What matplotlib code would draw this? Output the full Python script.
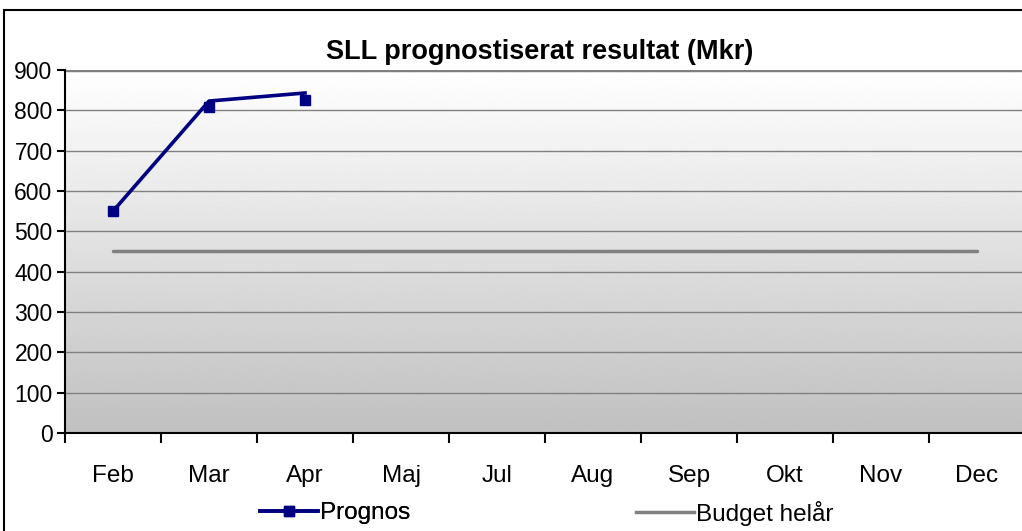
import matplotlib.pyplot as plt
import numpy as np
from matplotlib.patches import Rectangle
from matplotlib.lines import Line2D

plt.rcParams['font.family'] = ['Liberation Sans', 'DejaVu Sans']

# Chart data
months = ["Feb", "Mar", "Apr", "Maj", "Jul", "Aug", "Sep", "Okt", "Nov", "Dec"]
prognos_line = [550, 823, 843]      # where the drawn line runs
prognos_markers = [550, 808, 826]   # where the square markers sit
budget = [450] * len(months)
y_ticks = list(range(0, 1000, 100))

fig = plt.figure(figsize=(10.22, 5.31), dpi=100)
W, H = 1022, 531

# outer chart border (runs off the right and bottom edges)
fig.patches.append(Rectangle((4 / W, -0.05), 1.2, 1 - 10 / H + 0.05,
                             transform=fig.transFigure, fill=False,
                             edgecolor="black", linewidth=1.5))

# plot area: x 65..1025 px, y 70..433 px
ax = fig.add_axes([65 / W, (H - 433) / H, 960 / W, 363 / H])
ax.set_xlim(0, len(months))
ax.set_ylim(0, 900)

# gradient background white -> light gray
grad = np.linspace(0.753, 1.0, 256).reshape(-1, 1)
ax.imshow(grad, extent=[0, len(months), 0, 900], origin="lower",
          cmap="gray", vmin=0, vmax=1, aspect="auto", zorder=0)

# horizontal gridlines
for v in y_ticks[1:-1]:
    ax.axhline(v, color="#808080", linewidth=1.0, zorder=1)
ax.axhline(900, color="#808080", linewidth=2.5, zorder=1)

x = np.arange(len(months)) + 0.5
ax.plot(x, budget, color="#808080", linewidth=2.5, solid_capstyle="round",
        zorder=3)
ax.plot(x[:len(prognos_line)], prognos_line, color="#000080", linewidth=2.6,
        zorder=4)
ax.plot(x[:len(prognos_markers)], prognos_markers, linestyle="none",
        marker="s", markersize=7.5, color="#000080", markeredgecolor="#000080",
        zorder=5)

# axes styling
for s in ["top", "right"]:
    ax.spines[s].set_visible(False)
for s in ["left", "bottom"]:
    ax.spines[s].set_linewidth(1.5)
    ax.spines[s].set_color("black")
    ax.spines[s].set_zorder(6)

ax.set_yticks(y_ticks)
ax.tick_params(axis="y", direction="out", length=6, width=1.5,
               labelsize=16.5, pad=3)
ax.set_xticks(np.arange(len(months) + 1))
ax.set_xticklabels([])
ax.tick_params(axis="x", which="major", direction="out", length=7, width=1.5)
ax.set_xticks(x, minor=True)
ax.set_xticklabels(months, minor=True, fontsize=17.5)
ax.tick_params(axis="x", which="minor", length=0, pad=23)

fig.text(540 / W, 1 - 52 / H, "SLL prognostiserat resultat (Mkr)",
         ha="center", va="center", fontsize=19.5, fontweight="bold")

# legend, one entry each so they can be placed like the original
h1 = Line2D([], [], color="#000080", linewidth=2.6, marker="s",
            markersize=7)
h2 = Line2D([], [], color="#808080", linewidth=2.5)
leg_kw = dict(frameon=False, loc="center left", fontsize=17.5,
              handlelength=2.4, handletextpad=0.05, borderpad=0,
              borderaxespad=0)
leg1 = fig.legend([h1], ["Prognos"], bbox_to_anchor=(260 / W, 1 - 513 / H),
                  **leg_kw)
fig.add_artist(leg1)
fig.legend([h2], ["Budget helår"], bbox_to_anchor=(636 / W, 1 - 513 / H),
           **leg_kw)

fig.savefig("out.png", dpi=100)
